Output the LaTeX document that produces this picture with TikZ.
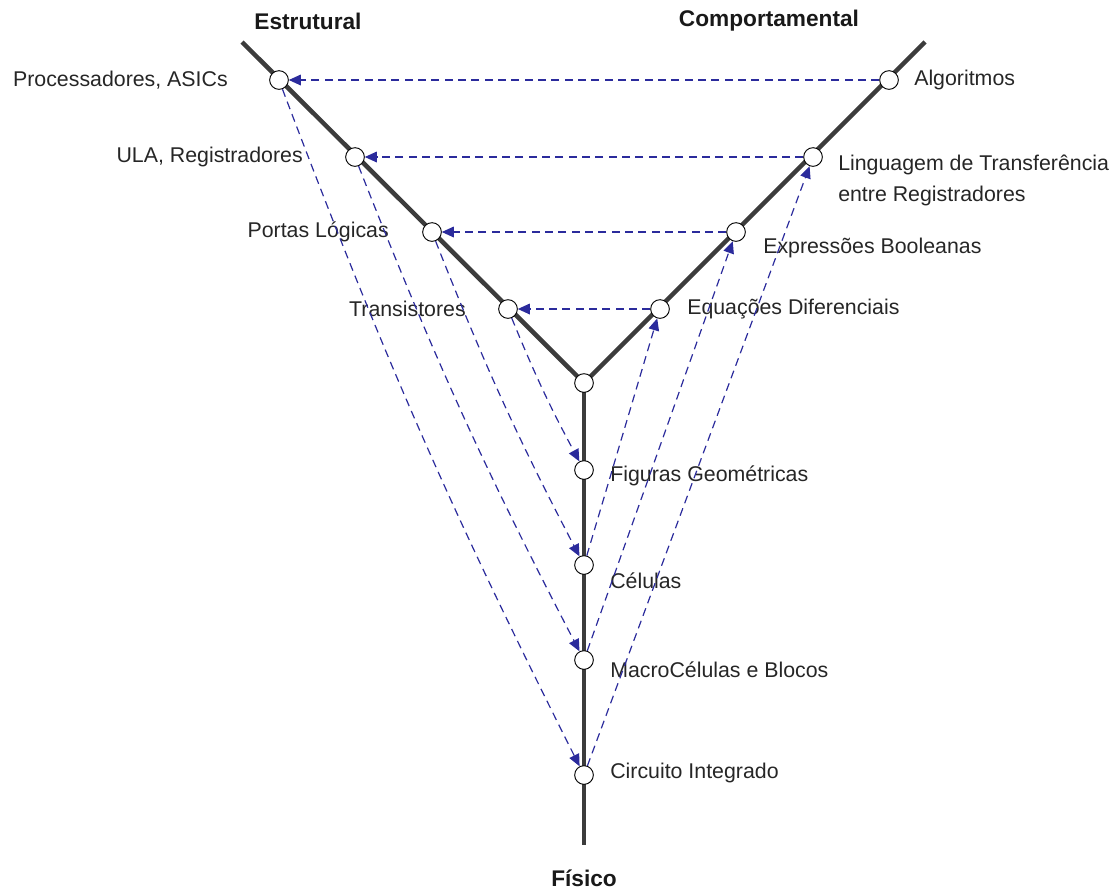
\documentclass[tikz,border=0pt]{standalone}
\usepackage{fontspec}
\setmainfont{Liberation Sans}
\usetikzlibrary{arrows.meta}
\definecolor{axisgray}{HTML}{3C3C3C}
\definecolor{mapblue}{HTML}{2B2B9C}
\tikzset{
  axis/.style={draw=axisgray, line width=3.4pt},
  level/.style={circle, draw=black, fill=white, line width=0.7pt, minimum size=14pt, inner sep=0pt},
  lbl/.style={font=\fontsize{16}{19}\selectfont, text=black!85, inner sep=0pt},
  title/.style={font=\fontsize{17}{20}\selectfont\bfseries, text=black!90, inner sep=0pt},
  map/.style={draw=mapblue, line width=0.9pt, dash pattern=on 6pt off 4pt,
              -{Triangle[length=9pt, width=8pt, fill=mapblue]}},
}
\begin{document}
\begin{tikzpicture}[x=0.75pt, y=-0.75pt]
\useasboundingbox (0,0) rectangle (1117,894);

% axes of the diagram
\coordinate (sEnd) at (242,42);
\coordinate (bEnd) at (925,42);
\coordinate (fEnd) at (584,845);
\coordinate (mid) at (584,383);
\draw[axis] (sEnd) -- (mid) -- (bEnd);
\draw[axis] (mid) -- (fEnd);

% titles
\node[title] (tS) at (308,21) {Estrutural};
\node[title] (tB) at (769,21) {Comportamental};
\node[title] (tF) at (584,878) {Físico};

% structural levels
\node[level] (s1) at (279,80) {};
\node[level] (s2) at (355,157) {};
\node[level] (s3) at (432,232) {};
\node[level] (s4) at (508,309) {};
% behavioural levels
\node[level] (b1) at (889,80) {};
\node[level] (b2) at (813,157) {};
\node[level] (b3) at (736,232) {};
\node[level] (b4) at (660,309) {};
% physical levels
\node[level] (f0) at (mid) {};
\node[level] (f1) at (584,470) {};
\node[level] (f2) at (584,565) {};
\node[level] (f3) at (584,660) {};
\node[level] (f4) at (584,775) {};

% labels
\node[lbl, anchor=east] (ls1) at (228,80) {Processadores, ASICs};
\node[lbl, anchor=east] (ls2) at (303,157) {ULA, Registradores};
\node[lbl, anchor=east] (ls3) at (389,232) {Portas Lógicas};
\node[lbl, anchor=east] (ls4) at (466,309) {Transistores};
\node[lbl, anchor=west] (lb1) at (914,80) {Algoritmos};
\node[lbl, anchor=west] (lb2a) at (838,165) {Linguagem de Transferência};
\node[lbl, anchor=west] (lb2b) at (838,196) {entre Registradores};
\node[lbl, anchor=west] (lb3) at (763,248) {Expressões Booleanas};
\node[lbl, anchor=west] (lb4) at (687,309) {Equações Diferenciais};
\node[lbl, anchor=west] (lf1) at (610,476) {Figuras Geométricas};
\node[lbl, anchor=west] (lf2) at (610,581) {Células};
\node[lbl, anchor=west] (lf3) at (610,670) {MacroCélulas e Blocos};
\node[lbl, anchor=west] (lf4) at (610,773) {Circuito Integrado};

% behavioural -> structural
\draw[map] (b1) -- (s1);
\draw[map] (b2) -- (s2);
\draw[map] (b3) -- (s3);
\draw[map] (b4) -- (s4);
% structural -> physical
\draw[map] (s1) to[bend right=3] (f4);
\draw[map] (s2) to[bend right=3] (f3);
\draw[map] (s3) to[bend right=3] (f2);
\draw[map] (s4) to[bend right=3] (f1);
% physical -> behavioural
\draw[map] (f2) -- (b4);
\draw[map] (f3) -- (b3);
\draw[map] (f4) -- (b2);
\end{tikzpicture}
\end{document}
